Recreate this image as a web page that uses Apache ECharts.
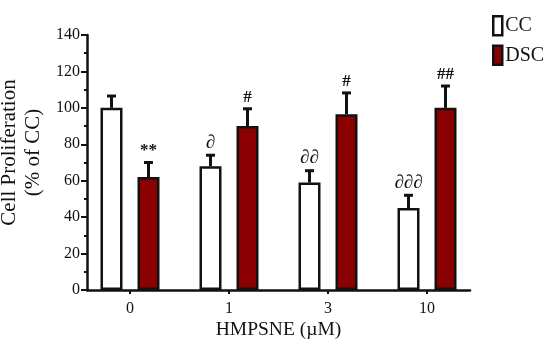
<!DOCTYPE html>
<html>
<head>
<meta charset="utf-8">
<script src="https://cdn.jsdelivr.net/npm/echarts@6/dist/echarts.min.js"></script>
<style>html,body{margin:0;padding:0;background:#fff}#c{width:550px;height:348px}</style>
</head>
<body>
<div id="c"></div>
<script>
const categories = ['0', '1', '3', '10'];
const ccMean = [100, 68, 59, 45];
const ccErr = [6.5, 6, 6.5, 7];
const dscMean = [62, 90, 96.5, 100];
const dscErr = [8, 9.5, 11.7, 12];
const ccMarks = ['', '∂', '∂∂', '∂∂∂'];
const dscMarks = ['**', '#', '#', '##'];
const yMin = 0, yMax = 140, yStep = 20;

const FONT = "'Liberation Serif', 'DejaVu Serif', serif";
const BAR_W = 22;
const BAR_GAP = 15; // px between bars
const HALF = (BAR_W + BAR_GAP) / 2;

function errSeries(name, means, errs, marks, side) {
  return {
    type: 'custom', name: name + ' err', xAxisIndex: 0, yAxisIndex: 0, z: 5,
    data: means.map((m, i) => [i, m, m + errs[i]]),
    renderItem: function (params, api) {
      const i = api.value(0);
      const p0 = api.coord([i, api.value(1)]);
      const p1 = api.coord([i, api.value(2)]);
      const x = p0[0] + side * HALF;
      const cap = 4.5;
      const children = [
        { type: 'line', shape: { x1: x, y1: p0[1], x2: x, y2: p1[1] }, style: { stroke: '#111', lineWidth: 3 } },
        { type: 'line', shape: { x1: x - cap, y1: p1[1], x2: x + cap, y2: p1[1] }, style: { stroke: '#111', lineWidth: 3 } }
      ];
      const t = marks[i];
      if (t) {
        const isD = t.indexOf('∂') >= 0;
        children.push({
          type: 'text',
          style: {
            x: x, y: p1[1] - 3, text: t, textAlign: 'center', textVerticalAlign: 'bottom',
            font: (isD ? 'normal 19px ' : 'bold 17px ') + FONT, fill: '#111'
          }
        });
      }
      return { type: 'group', children: children };
    }
  };
}

const chart = echarts.init(document.getElementById('c'), null, { renderer: 'canvas' });
chart.setOption({
  animation: false,
  backgroundColor: '#fff',
  textStyle: { fontFamily: FONT },
  grid: [
    { left: 80.5, right: 73.5, top: 35, bottom: 58, outerBoundsMode: 'none', containLabel: false },
    { left: 87, right: 80, top: 35, bottom: 58, outerBoundsMode: 'none', containLabel: false }
  ],
  legend: {
    orient: 'vertical', left: 487, top: 10, itemWidth: 9, itemHeight: 19, itemGap: 8,
    textStyle: { fontFamily: FONT, fontSize: 20, color: '#111', padding: [0, 0, 0, -2] },
    data: [
      { name: 'CC', icon: 'rect', itemStyle: { color: '#fff', borderColor: '#111', borderWidth: 2.5 } },
      { name: 'DSC', icon: 'rect', itemStyle: { color: '#8b0000', borderColor: '#111', borderWidth: 2.5 } }
    ]
  },
  xAxis: [
    {
      type: 'category', gridIndex: 0, data: categories,
      axisLine: { show: false },
      axisTick: { show: true, alignWithLabel: true, length: 4, lineStyle: { color: '#111', width: 2 } },
      axisLabel: { fontFamily: FONT, fontSize: 16, color: '#111', margin: 11 }
    },
    {
      type: 'value', gridIndex: 1, min: 0, max: 1,
      axisLine: { show: true, lineStyle: { color: '#111', width: 2.5 } },
      axisTick: { show: false }, axisLabel: { show: false }, splitLine: { show: false },
      name: 'HMPSNE (µM)', nameLocation: 'middle', nameGap: 30,
      nameTextStyle: { fontFamily: FONT, fontSize: 19.5, color: '#111' }
    }
  ],
  yAxis: [
    {
      type: 'value', gridIndex: 0, min: yMin, max: yMax, interval: yStep,
      show: false, splitLine: { show: false }
    },
    {
      type: 'value', gridIndex: 1, min: yMin, max: yMax, interval: yStep,
      axisLine: { show: true, lineStyle: { color: '#111', width: 2.5 } },
      axisTick: { show: true, length: 6, lineStyle: { color: '#111', width: 2 } },
      minorTick: { show: true, splitNumber: 2, length: 3, lineStyle: { color: '#111', width: 2 } },
      axisLabel: { fontFamily: FONT, fontSize: 16, color: '#111', margin: 7 },
      splitLine: { show: false },
      name: 'Cell Proliferation\n(% of CC)', nameLocation: 'middle', nameGap: 37,
      nameTextStyle: { fontFamily: FONT, fontSize: 21, color: '#111', lineHeight: 24, padding: [0, 0, 0, 20] }
    }
  ],
  series: [
    {
      name: 'CC', type: 'bar', xAxisIndex: 0, yAxisIndex: 0, data: ccMean,
      barWidth: BAR_W, barGap: (BAR_GAP / BAR_W * 100) + '%',
      itemStyle: { color: '#fff', borderColor: '#111', borderWidth: 2.5 }
    },
    {
      name: 'DSC', type: 'bar', xAxisIndex: 0, yAxisIndex: 0, data: dscMean,
      barWidth: BAR_W,
      itemStyle: { color: '#8b0000', borderColor: '#111', borderWidth: 2.5 }
    },
    errSeries('CC', ccMean, ccErr, ccMarks, -1),
    errSeries('DSC', dscMean, dscErr, dscMarks, 1)
  ]
});
</script>
</body>
</html>
